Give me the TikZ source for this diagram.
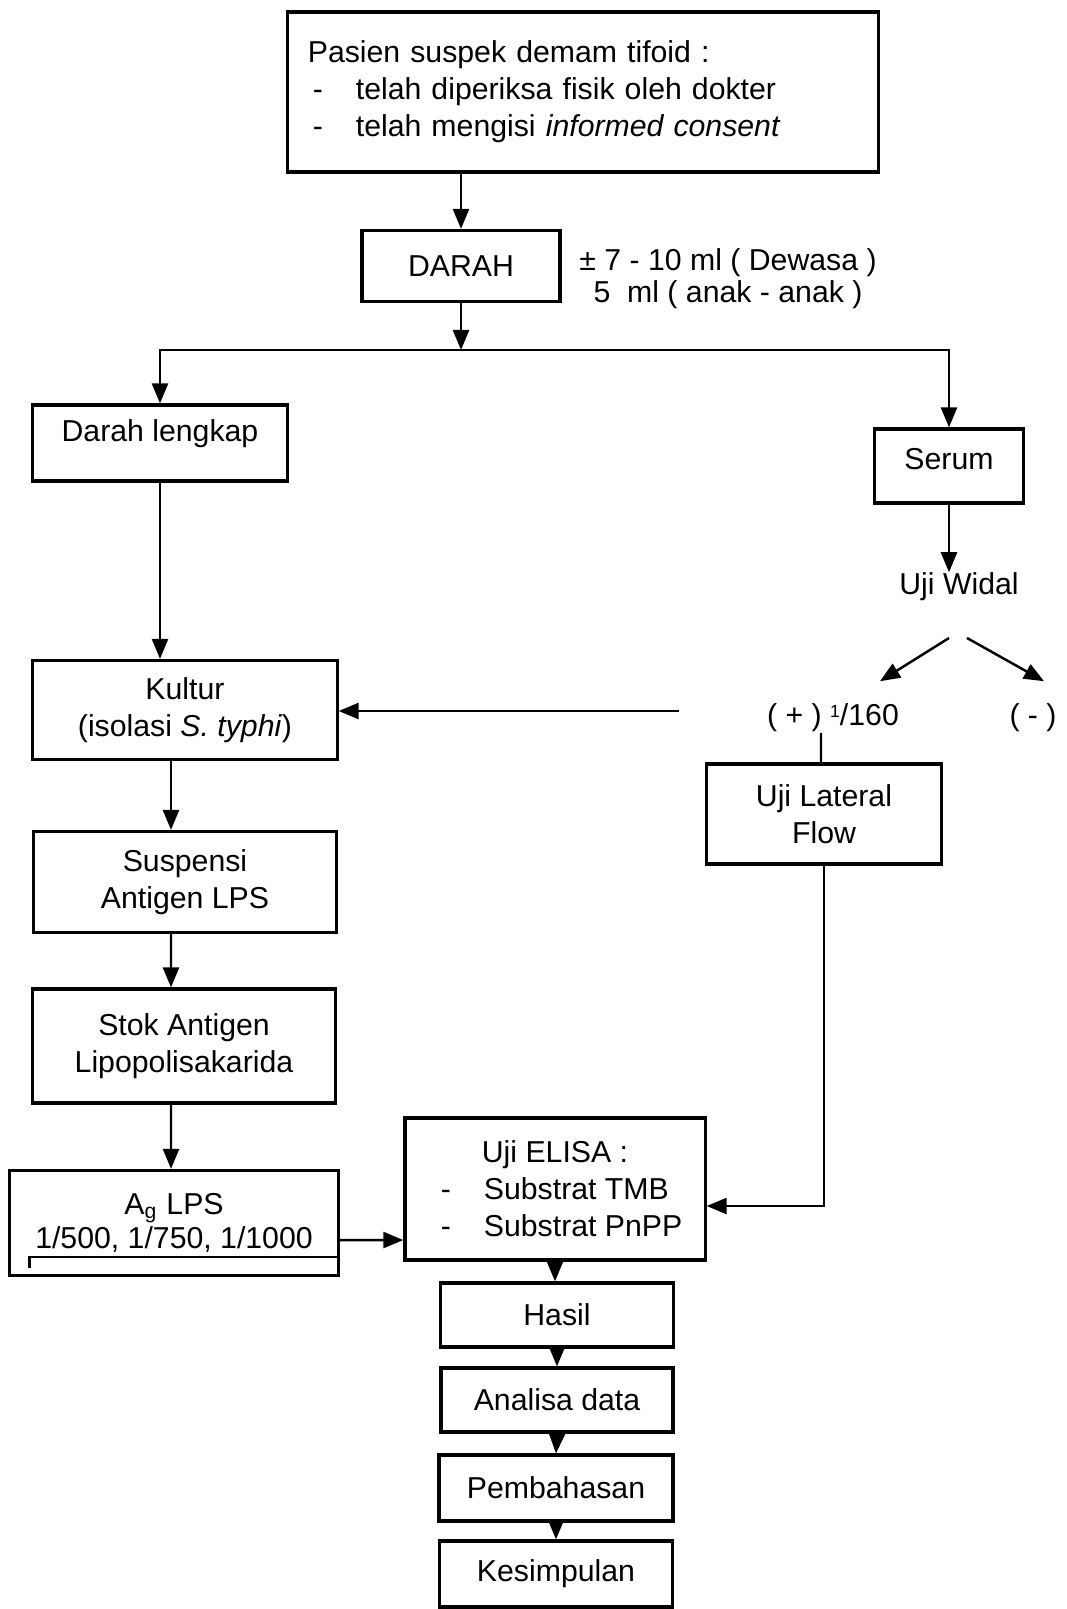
\documentclass[tikz,border=0pt]{standalone}
\usepackage{fontspec}
\setmainfont{Liberation Sans}
\usetikzlibrary{arrows.meta,positioning}

\tikzset{
	box/.style={draw, line width=0.9pt, inner sep=0pt, align=center},
	txt/.style={inner sep=0pt, align=center},
	arr/.style={line width=0.7pt, -{Triangle[length=2mm,width=1.6mm]}},
	ln/.style={line width=0.7pt}
}
\newcommand{\itemdash}[1]{\makebox[0.48cm][l]{\hspace{0.05cm}-}#1}

\begin{document}
\begin{tikzpicture}[x=0.01cm, y=-0.01cm, font=\fontsize{8.6}{10.5}\selectfont]
			\useasboundingbox (0,0) rectangle (1066,1609);

			% patient and blood
			\node[box, minimum width=5.91cm, minimum height=1.6cm, text width=5.5cm, align=left] (pasien) at (583,92) {Pasien suspek demam tifoid :\\ \itemdash{telah diperiksa fisik oleh dokter}\\ \itemdash{telah mengisi \textit{informed consent}}};
			\node[box, minimum width=1.98cm, minimum height=0.71cm] (darah) at (461,266) {DARAH};
			\node[txt] (volume) at (728,279) {± 7 - 10 ml ( Dewasa )\\[-0.05cm] 5\ \ ml ( anak - anak )};
			\coordinate (split) at (461,350);

			% left column
			\node[box, minimum width=2.55cm, minimum height=0.76cm, text depth=0.24cm] (dl) at (160,443) {Darah lengkap};
			\node[box, minimum width=3.04cm, minimum height=0.99cm] (kultur) at (185,710) {Kultur\\ (isolasi \textit{S. typhi})};
			\node[box, minimum width=3.03cm, minimum height=1.01cm] (suspensi) at (185,882) {Suspensi\\ Antigen LPS};
			\node[box, minimum width=3.02cm, minimum height=1.14cm] (stok) at (184,1046) {Stok Antigen\\ Lipopolisakarida};
			\node[box, minimum width=3.28cm, minimum height=1.05cm] (ag) at (174,1223) {A\textsubscript{g} LPS\\[-0.03cm] 1/500, 1/750, 1/1000};

			% right column
			\node[box, minimum width=1.49cm, minimum height=0.74cm, text depth=0.14cm] (serum) at (949,466) {Serum};
			\node[txt] (widal) at (959,587) {Uji Widal};
			\node[txt] (plus) at (833,718) {( + ) {\fontsize{5}{6}\selectfont\raisebox{0.9ex}{1}}/160};
			\node[txt] (minus) at (1033,718) {( - )};
			\coordinate (wl) at (949,638);
			\coordinate (wr) at (967,638);
			\coordinate (kin) at (679,711);
			\node[box, minimum width=2.35cm, minimum height=1cm] (ulf) at (824,814) {Uji Lateral\\ Flow};

			% bottom
			\node[box, minimum width=3cm, minimum height=1.42cm] (elisa) at (555,1189) {Uji ELISA :\\ \makebox[2.38cm][l]{\itemdash{Substrat TMB}}\\ \makebox[2.38cm][l]{\itemdash{Substrat PnPP}}};
			\node[box, minimum width=2.33cm, minimum height=0.64cm] (hasil) at (557,1315) {Hasil};
			\node[box, minimum width=2.32cm, minimum height=0.64cm] (analisa) at (557,1400) {Analisa data};
			\node[box, minimum width=2.34cm, minimum height=0.66cm] (bahas) at (556,1488) {Pembahasan};
			\node[box, minimum width=2.33cm, minimum height=0.66cm] (simpul) at (556,1574) {Kesimpulan};

			% underline in the antigen box
			\draw[ln] ([shift={(0.21cm,0.09cm)}]ag.south west) |- ([yshift=0.2cm]ag.south east);

			% arrows
			\draw[arr] (pasien.south -| darah.north) -- (darah.north);
			\draw[arr] (darah.south) -- (split);
			\draw[arr] (split) -| (dl.north);
			\draw[arr] (split) -| (serum.north);
			\draw[arr] (dl.south) -- (dl.south |- kultur.north);
			\draw[arr] ([xshift=-0.14cm]kultur.south) -- ([xshift=-0.14cm]suspensi.north);
			\draw[arr] ([xshift=-0.14cm]suspensi.south) -- ([xshift=-0.13cm]stok.north);
			\draw[arr] ([xshift=-0.13cm]stok.south) -- ([xshift=-0.03cm]ag.north);
			\draw[arr] ([yshift=-0.17cm]ag.east) -- ([yshift=-0.51cm]elisa.west);
			\draw[arr] (serum.south) -- (serum.south |- widal.north);
			\draw[arr] (wl) -- ([shift={(0.47cm,0.22cm)}]plus.north);
			\draw[arr] (wr) -- ([shift={(0.11cm,0.22cm)}]minus.north);
			\draw[arr] (kin) -- (kin -| kultur.east);
			\draw[ln] ([xshift=-0.12cm]plus.south) -- ([xshift=-0.03cm]ulf.north);
			\draw[arr] (ulf.south) |- ([yshift=-0.17cm]elisa.east);
			\draw[arr] (elisa.south) -- (elisa.south |- hasil.north);
			\draw[arr] (hasil.south) -- (analisa.north);
			\draw[arr] (analisa.south) -- (bahas.north);
			\draw[arr] (bahas.south) -- (simpul.north);
		\end{tikzpicture}
\end{document}
